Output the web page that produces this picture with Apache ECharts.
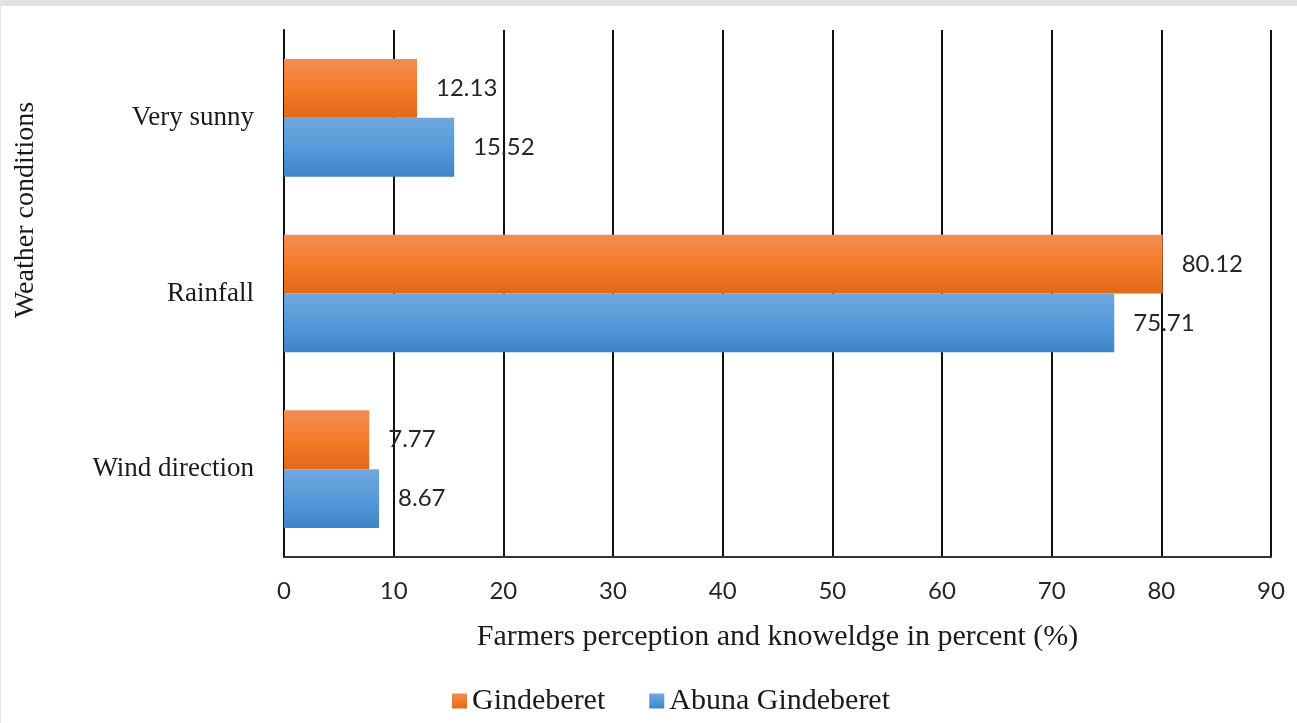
<!DOCTYPE html>
<html>
<head>
<meta charset="utf-8">
<title>Weather conditions</title>
<script src="https://cdn.jsdelivr.net/npm/echarts@6/dist/echarts.min.js"></script>
<style>
  html, body { margin: 0; padding: 0; background: #ffffff; }
  #chart { width: 1297px; height: 723px; }
</style>
</head>
<body>
<div id="chart"></div>
<script>
// Weather indicators farmers rely on, per site (percent of respondents)
const categories = ['Very sunny', 'Rainfall', 'Wind direction'];
const gindeberet = [12.13, 80.12, 7.77];
const abunaGindeberet = [15.52, 75.71, 8.67];
const seriesNames = ['Gindeberet', 'Abuna Gindeberet'];
const xTicks = { min: 0, max: 90, interval: 10 };

const serif = '"Liberation Serif", "Times New Roman", serif';
const sans = 'Lato, "Open Sans", sans-serif';

function grad(top, mid, bottom) {
  return new echarts.graphic.LinearGradient(0, 0, 0, 1, [
    { offset: 0, color: top },
    { offset: 0.5, color: mid },
    { offset: 1, color: bottom }
  ]);
}

const orange = grad('#f28d56', '#f47b2a', '#e1671a');
const blue = grad('#70a8dd', '#559ada', '#3f84c4');

const chart = echarts.init(document.getElementById('chart'), null, { renderer: 'canvas' });

const valueLabel = {
  show: true,
  position: 'right',
  distance: 19,
  fontFamily: sans,
  fontSize: 24,
  color: '#262626'
};

chart.setOption({
  animation: false,
  backgroundColor: '#ffffff',
  graphic: [
    { type: 'rect', left: 0, top: 0, shape: { width: 1297, height: 6 }, style: { fill: '#e2e2e2' }, silent: true },
    { type: 'rect', left: 0, top: 6, shape: { width: 1, height: 717 }, style: { fill: '#e4e8ec' }, silent: true },
    {
      type: 'text',
      x: 26,
      y: 210,
      rotation: Math.PI / 2,
      style: {
        text: 'Weather conditions',
        font: '28px ' + serif,
        fill: '#1a1a1a',
        align: 'center',
        verticalAlign: 'middle'
      }
    }
  ],
  grid: { left: 284, right: 26, top: 30, bottom: 166, containLabel: false },
  legend: {
    left: 447,
    top: 681,
    itemWidth: 15,
    itemHeight: 15,
    itemGap: 44,
    icon: 'rect',
    textStyle: { fontFamily: serif, fontSize: 30, color: '#1a1a1a' },
    data: seriesNames
  },
  xAxis: {
    type: 'value',
    min: xTicks.min,
    max: xTicks.max,
    interval: xTicks.interval,
    name: 'Farmers perception and knoweldge in percent (%)',
    nameLocation: 'middle',
    nameGap: 65,
    nameTextStyle: { fontFamily: serif, fontSize: 30, color: '#1a1a1a' },
    axisLine: { show: true, lineStyle: { color: '#333333', width: 2 } },
    axisTick: { show: false },
    axisLabel: { margin: 22, fontFamily: sans, fontSize: 24, color: '#262626' },
    splitLine: { show: true, lineStyle: { color: '#111111', width: 2 } }
  },
  yAxis: {
    type: 'category',
    inverse: true,
    data: categories,
    axisLine: { show: true, lineStyle: { color: '#111111', width: 2 } },
    axisTick: { show: false },
    axisLabel: { margin: 30, fontFamily: serif, fontSize: 27, color: '#1a1a1a' },
    splitLine: { show: false }
  },
  series: [
    {
      name: seriesNames[0],
      type: 'bar',
      data: gindeberet,
      barGap: '0%',
      barCategoryGap: '33%',
      itemStyle: { color: orange },
      label: valueLabel,
      z: 1
    },
    {
      name: seriesNames[1],
      type: 'bar',
      data: abunaGindeberet,
      barGap: '0%',
      barCategoryGap: '33%',
      itemStyle: { color: blue },
      label: valueLabel,
      z: 1
    }
  ]
});
</script>
</body>
</html>
